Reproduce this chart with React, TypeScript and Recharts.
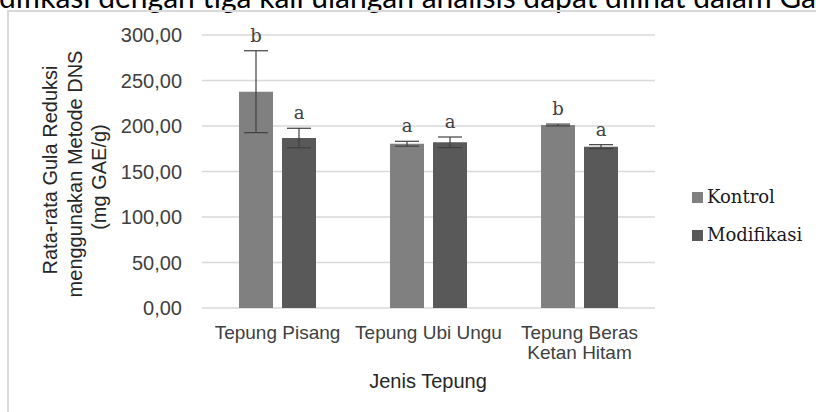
import { BarChart, Bar, XAxis, YAxis, CartesianGrid, ErrorBar, LabelList } from "recharts";

// rata-rata gula reduksi (mg GAE/g), metode DNS, tiga ulangan
const categories = ["Tepung Pisang", "Tepung Ubi Ungu", "Tepung Beras\nKetan Hitam"];
const kontrol = [237.7, 180.5, 201.1];
const kontrolSd = [45.0, 2.7, 1.0];
const kontrolNotasi = ["b", "a", "b"];
const modifikasi = [186.8, 182.1, 177.3];
const modifikasiSd = [10.7, 5.8, 2.2];
const modifikasiNotasi = ["a", "a", "a"];
const yTicks = [0, 50, 100, 150, 200, 250, 300];

const series = [
    { key: "kontrol", name: "Kontrol", color: "#808080" },
    { key: "modifikasi", name: "Modifikasi", color: "#595959" },
];

const data = categories.map((name, i) => ({
    name,
    kontrol: kontrol[i],
    kontrolSd: kontrolSd[i],
    kontrolNotasi: kontrolNotasi[i],
    modifikasi: modifikasi[i],
    modifikasiSd: modifikasiSd[i],
    modifikasiNotasi: modifikasiNotasi[i],
}));

const W = 816;
const H = 412;
const PLOT_TOP = 35;
const PLOT_BOTTOM = 308;
const Y_MAX = 300;
const pxPerUnit = (PLOT_BOTTOM - PLOT_TOP) / Y_MAX;

const serif = "'DejaVu Serif', serif";
const sans = "'Liberation Sans', Arial, sans-serif";

const fmt = (v: number) => v.toFixed(2).replace(".", ",");

function CategoryTick({ x, y, payload }: any) {
    const lines = String(payload.value).split("\n");
    return (
        <text x={x} y={y} textAnchor="middle" fill="#404040" fontFamily={sans} fontSize={19}>
            {lines.map((l, i) => (
                <tspan key={i} x={x} dy={i === 0 ? 23 : 20}>
                    {l}
                </tspan>
            ))}
        </text>
    );
}

// huruf notasi di atas batang galat
const notasi = (sdKey: string) => (props: any) => {
    const { x, y, width, value, index } = props;
    const sd = (data[index] as any)[sdKey];
    const ty = Number(y) - sd * pxPerUnit - 9;
    return (
        <text x={Number(x) + Number(width) / 2} y={ty} textAnchor="middle" fill="#404040" fontFamily={serif} fontSize={18}>
            {value}
        </text>
    );
};

const yLabelLines = [
    { text: "Rata-rata Gula Reduksi", x: 57, cy: 170 },
    { text: "menggunakan Metode DNS", x: 82, cy: 174 },
    { text: "(mg GAE/g)", x: 106, cy: 177 },
];

function YTitle() {
    return (
        <g>
            {yLabelLines.map((l) => (
                <text
                    key={l.text}
                    x={l.x}
                    y={l.cy}
                    transform={`rotate(-90, ${l.x}, ${l.cy})`}
                    textAnchor="middle"
                    fill="#262626"
                    fontFamily={sans}
                    fontSize={20}
                >
                    {l.text}
                </text>
            ))}
        </g>
    );
}

function XTitle() {
    return (
        <text x={428} y={388} textAnchor="middle" fill="#262626" fontFamily={sans} fontSize={20}>
            Jenis Tepung
        </text>
    );
}

export default function App() {
    return (
        <div style={{ position: "absolute", left: 0, top: 0, width: W, height: H, overflow: "hidden", background: "#fff" }}>
            <svg width={W} height={20} style={{ position: "absolute", left: 0, top: 0 }}>
                <text x={-1} y={8} fill="#000" fontFamily="Lato, sans-serif" fontSize={30}>
                    difikasi dengan tiga kali ulangan analisis dapat dilihat dalam Ga
                </text>
            </svg>
            <div
                style={{
                    position: "absolute",
                    left: 7,
                    top: 10,
                    width: W,
                    height: H,
                    border: "2px solid #d9d9d9",
                }}
            />
            <div style={{ position: "absolute", left: 0, top: 0 }}>
                <BarChart
                    width={W}
                    height={H}
                    data={data}
                    margin={{ top: PLOT_TOP, right: 161, bottom: 0, left: 0 }}
                    barSize={34}
                    barGap={9}
                >
                    <CartesianGrid vertical={false} stroke="#d9d9d9" strokeWidth={1.5} />
                    <XAxis
                        dataKey="name"
                        height={H - PLOT_BOTTOM}
                        axisLine={false}
                        tickLine={false}
                        tick={<CategoryTick />}
                        interval={0}
                        label={{ content: <XTitle /> }}
                    />
                    <YAxis
                        width={202}
                        domain={[0, Y_MAX]}
                        ticks={yTicks}
                        axisLine={false}
                        tickLine={false}
                        tickSize={0}
                        tickMargin={20}
                        tickFormatter={fmt}
                        tick={{ fill: "#404040", fontFamily: sans, fontSize: 20 }}
                        label={{ content: <YTitle /> }}
                    />
                    {series.map((s) => (
                        <Bar key={s.key} dataKey={s.key} name={s.name} fill={s.color} isAnimationActive={false}>
                            <ErrorBar dataKey={`${s.key}Sd`} width={12} stroke="#404040" strokeWidth={1.2} direction="y" />
                            <LabelList dataKey={`${s.key}Notasi`} content={notasi(`${s.key}Sd`)} />
                        </Bar>
                    ))}
                </BarChart>
            </div>
            {series.map((s, i) => (
                <div
                    key={s.key}
                    style={{
                        position: "absolute",
                        left: 692,
                        top: 187 + i * 38,
                        display: "flex",
                        alignItems: "center",
                        fontFamily: serif,
                        fontSize: 18,
                        color: "#1a1a1a",
                        lineHeight: "20px",
                    }}
                >
                    <span style={{ width: 11, height: 11, background: s.color, marginRight: 4, display: "inline-block" }} />
                    {s.name}
                </div>
            ))}
        </div>
    );
}
